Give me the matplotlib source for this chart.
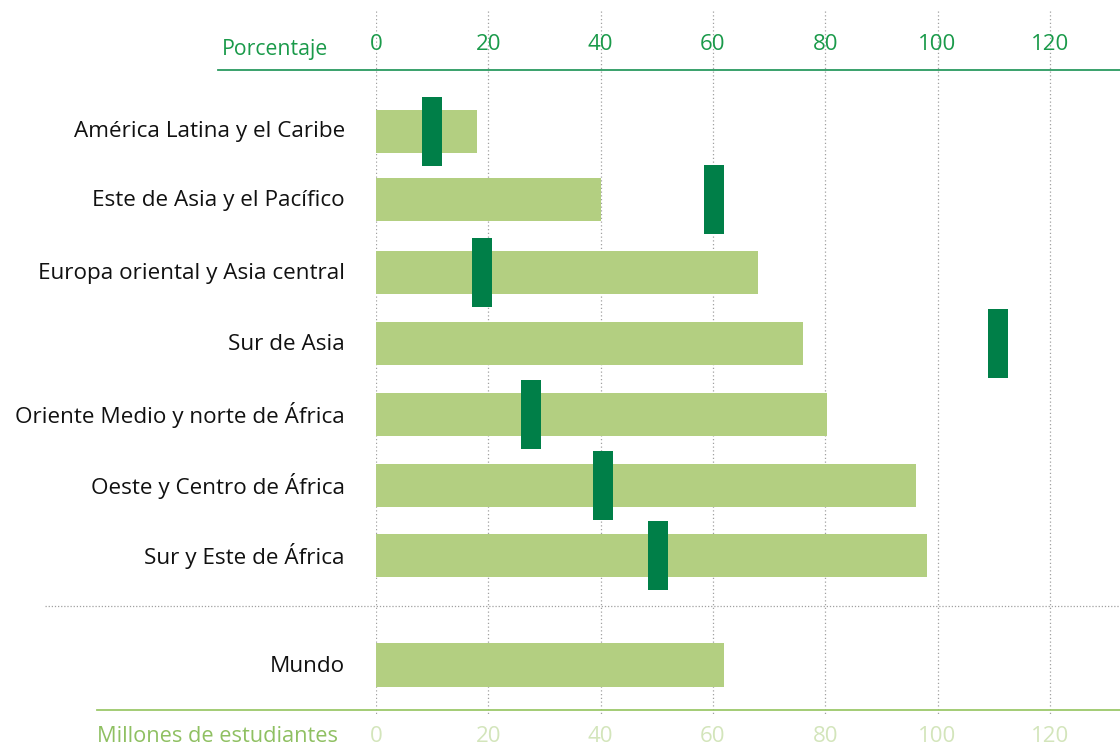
import numpy as np
import matplotlib
matplotlib.use('Agg')
import matplotlib.pyplot as plt

plt.rcParams['font.family'] = ['Open Sans', 'DejaVu Sans']

# data
regions = [
    'América Latina y el Caribe',
    'Este de Asia y el Pacífico',
    'Europa oriental y Asia central',
    'Sur de Asia',
    'Oriente Medio y norte de África',
    'Oeste y Centro de África',
    'Sur y Este de África',
]
millions = [18.0, 40.1, 68.0, 76.0, 80.3, 96.1, 98.2]
percent = [10.0, 60.2, 18.8, 110.8, 27.6, 40.4, 50.3]
world_label = 'Mundo'
world_millions = 62.0
ticks = [0, 20, 40, 60, 80, 100, 120]

bar_col = '#b3cf81'
mark_col = '#007f48'
top_col = '#1a9a4a'
bot_col = '#8fc062'
bot_tick_col = '#d3e5bb'
grid_col = '#a0a0a0'

# layout (vertical positions in pixels from top)
rows = [131, 199.5, 272.5, 343, 414.5, 485, 555]
y_world = 665

fig = plt.figure(figsize=(11.2, 7.47), dpi=100)
px = 5.615  # pixels per unit
ax = fig.add_axes([376 / 1120, 0, 1 - 376 / 1120, 1])
ax.set_xlim(0, (1120 - 376) / px)
ax.set_ylim(747, 0)
ax.axis('off')

# gridlines
ax.vlines(ticks, 11, 716, colors=grid_col, linestyles=(0, (1, 2)), lw=0.9, zorder=0)

# bars
ax.barh(rows, millions, height=43, color=bar_col, zorder=2)
ax.barh([y_world], [world_millions], height=44, color=bar_col, zorder=2)

# percentage markers
mw = 20 / px
ax.barh(rows, mw, left=np.array(percent) - mw / 2, height=69, color=mark_col, zorder=3)

# category labels
for yi, lab in zip(rows, regions):
    ax.text(-31 / px, yi + 1, lab, ha='right', va='center', fontsize=16.2, color='#111111', clip_on=False)
ax.text(-31 / px, y_world + 1, world_label, ha='right', va='center', fontsize=16.2, color='#111111', clip_on=False)

# separator
ax.plot([-331 / px, 200], [606, 606], color=grid_col, ls=(0, (1, 1.5)), lw=0.9, clip_on=False)

# top axis
ax.plot([-158 / px, 200], [70, 70], color='#2a9a60', lw=1.3, clip_on=False)
for t in ticks:
    ax.text(t, 45, str(t), ha='center', va='center', fontsize=16, color=top_col)
ax.text(-48 / px, 49, 'Porcentaje', ha='right', va='center', fontsize=15.3, color=top_col, clip_on=False)

# bottom axis
ax.plot([-279 / px, 200], [710, 710], color='#9cc86a', lw=1.3, clip_on=False)
for t in ticks:
    ax.text(t, 737, str(t), ha='center', va='center', fontsize=16, color=bot_tick_col)
ax.text(-38 / px, 737, 'Millones de estudiantes', ha='right', va='center', fontsize=15.7, color=bot_col, clip_on=False)

fig.savefig('out.png', dpi=100)
